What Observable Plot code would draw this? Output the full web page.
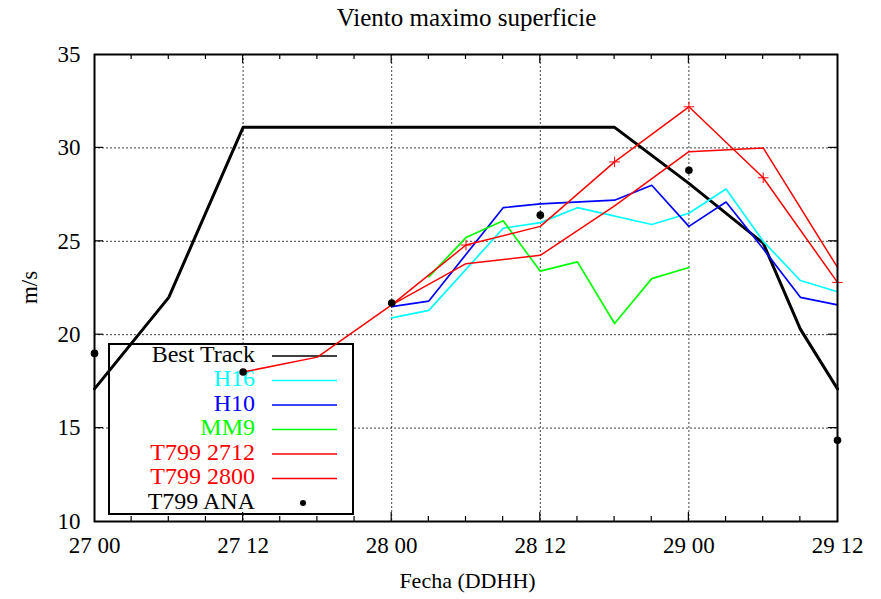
<!DOCTYPE html>
<html>
<head>
<meta charset="utf-8">
<script src="https://cdn.jsdelivr.net/npm/d3@7"></script>
<script src="https://cdn.jsdelivr.net/npm/@observablehq/plot@0.6"></script>
<style>
  body { margin: 0; background: #fff; }
  #title { width: 881px; box-sizing: border-box; padding-left: 52px; height: 40px; line-height: 36px;
           text-align: center; font-family: "Liberation Serif", serif; font-size: 25px; color: #000; }
  #chart svg { display: block; }
</style>
</head>
<body>
<div id="title">Viento maximo superficie</div>
<div id="chart"></div>
<script>
// hours since 27 00
const bestHours = [0, 6, 12, 42, 48, 54, 57, 60];
const bestVals  = [17.1, 22.0, 31.1, 31.1, 28.1, 24.9, 20.3, 17.1];

const h16Hours = [24, 27, 33, 36, 39, 45, 48, 51, 54, 57, 60];
const h16Vals  = [20.9, 21.3, 25.7, 26.0, 26.8, 25.9, 26.5, 27.8, 25.0, 22.9, 22.3];

const h10Hours = [24, 27, 33, 36, 42, 45, 48, 51, 54, 57, 60];
const h10Vals  = [21.5, 21.8, 26.8, 27.0, 27.2, 28.0, 25.8, 27.1, 24.6, 22.0, 21.6];

const mm9Hours = [27, 30, 33, 36, 39, 42, 45, 48];
const mm9Vals  = [23.1, 25.2, 26.1, 23.4, 23.9, 20.6, 23.0, 23.6];

const t2712Hours = [12, 18, 24, 30, 36, 42, 48, 54, 60];
const t2712Vals  = [18.0, 18.8, 21.6, 24.8, 25.8, 29.25, 32.2, 28.4, 22.8];
const t2712CrossHours = [30, 42, 48, 54, 60];

const t2800Hours = [24, 30, 36, 42, 48, 54, 60];
const t2800Vals  = [21.6, 23.8, 24.25, 26.9, 29.8, 30.0, 23.6];

const anaHours = [0, 12, 24, 36, 48, 60];
const anaVals  = [19.0, 18.0, 21.7, 26.4, 28.8, 14.35];

const xTicks = [0, 12, 24, 36, 48, 60];
const xTickLabels = ["27 00", "27 12", "28 00", "28 12", "29 00", "29 12"];
const xMinorTicks = d3.range(0, 61, 3);
const yTicks = [10, 15, 20, 25, 30, 35];

const legendNames = ["Best Track", "H16", "H10", "MM9", "T799 2712", "T799 2800", "T799 ANA"];
const legendColors = ["#000000", "#00ffff", "#0000ff", "#00ff00", "#ff0000", "#ff0000", "#000000"];

const zip = (hs, vs) => hs.map((h, i) => ({h, v: vs[i]}));
const best = zip(bestHours, bestVals);
const h16 = zip(h16Hours, h16Vals);
const h10 = zip(h10Hours, h10Vals);
const mm9 = zip(mm9Hours, mm9Vals);
const t2712 = zip(t2712Hours, t2712Vals);
const t2800 = zip(t2800Hours, t2800Vals);
const ana = zip(anaHours, anaVals);

const W = 881, H = 559;
const plot = Plot.plot({
  width: W, height: H,
  marginTop: 14, marginBottom: 78, marginLeft: 94, marginRight: 44,
  style: {fontFamily: "Liberation Serif, serif", fontSize: "23px", background: "#fff", color: "#000"},
  x: {domain: [0, 60]},
  y: {domain: [10, 35]},
  marks: [
    Plot.ruleX(xTicks.slice(1, -1), {stroke: "#000", strokeWidth: 1, strokeDasharray: "2,2", strokeOpacity: 0.75}),
    Plot.ruleY(yTicks.slice(1, -1), {stroke: "#000", strokeWidth: 1, strokeDasharray: "2,2", strokeOpacity: 0.75}),
    Plot.axisY({ticks: yTicks, tickSize: 0, tickPadding: 14, label: null}),
    Plot.axisX({ticks: xTicks, tickSize: 0, tickPadding: 15, label: null,
      tickFormat: d => xTickLabels[xTicks.indexOf(d)]}),
    Plot.line(best, {x: "h", y: "v", stroke: "#000", strokeWidth: 3}),
    Plot.line(h16, {x: "h", y: "v", stroke: "#00ffff", strokeWidth: 1.7}),
    Plot.line(h10, {x: "h", y: "v", stroke: "#0000ff", strokeWidth: 1.7}),
    Plot.line(mm9, {x: "h", y: "v", stroke: "#00ff00", strokeWidth: 1.7}),
    Plot.line(t2712, {x: "h", y: "v", stroke: "#ff0000", strokeWidth: 1.5}),
    Plot.dot(t2712.filter(d => t2712CrossHours.includes(d.h)), {x: "h", y: "v", symbol: "plus", r: 3.5, stroke: "#ff0000", strokeWidth: 1}),
    Plot.line(t2800, {x: "h", y: "v", stroke: "#ff0000", strokeWidth: 1.5}),
    Plot.dot(ana, {x: "h", y: "v", r: 3.8, fill: "#000"}),
    Plot.frame({stroke: "#000", strokeWidth: 2})
  ]
});

const svg = d3.select(plot);
svg.selectAll("text").style("font-size", "23px");

const sx = plot.scale("x"), sy = plot.scale("y");
const X = v => sx.apply(v), Y = v => sy.apply(v);
const x0 = X(0), x1 = X(60), y0 = Y(10), y1 = Y(35);
const g = svg.append("g").attr("stroke", "#000").attr("stroke-width", 1.2);
// inward ticks
xMinorTicks.forEach(h => {
  const len = xTicks.includes(h) ? 9 : 5;
  if (h === 0 || h === 60) return;
  g.append("line").attr("x1", X(h)).attr("x2", X(h)).attr("y1", y0).attr("y2", y0 - len);
  g.append("line").attr("x1", X(h)).attr("x2", X(h)).attr("y1", y1).attr("y2", y1 + len);
});
yTicks.slice(1, -1).forEach(v => {
  g.append("line").attr("x1", x0).attr("x2", x0 + 9).attr("y1", Y(v)).attr("y2", Y(v));
  g.append("line").attr("x1", x1).attr("x2", x1 - 9).attr("y1", Y(v)).attr("y2", Y(v));
});

// axis labels
svg.append("text").attr("transform", `translate(32,${(y0 + y1) / 2}) rotate(-90)`)
  .attr("text-anchor", "middle").attr("dominant-baseline", "middle")
  .style("font-size", "23px").text("m/s");
svg.append("text").attr("x", (x0 + x1) / 2 + 2).attr("y", y0 + 62)
  .attr("text-anchor", "middle").attr("dominant-baseline", "middle")
  .style("font-size", "22px").text("Fecha (DDHH)");

// legend: white box under the data lines, above the grid
const firstLine = svg.select('g[aria-label="line"]').node();
const box = svg.append("rect").attr("x", 109).attr("y", 304).attr("width", 244).attr("height", 170)
  .attr("fill", "#fff").attr("stroke", "#000").attr("stroke-width", 2);
plot.insertBefore(box.node(), firstLine);
const lg = svg.append("g");
legendNames.forEach((name, i) => {
  const cy = 316 + i * 24.5;
  lg.append("text").attr("x", 255).attr("y", cy).attr("text-anchor", "end")
    .attr("dominant-baseline", "middle").style("font-size", "24px")
    .attr("fill", legendColors[i]).text(name);
  if (i < legendNames.length - 1) {
    lg.append("line").attr("x1", 272).attr("x2", 337).attr("y1", cy).attr("y2", cy)
      .attr("stroke", legendColors[i]).attr("stroke-width", 1.3);
  } else {
    lg.append("circle").attr("cx", 303).attr("cy", cy).attr("r", 3).attr("fill", legendColors[i]);
  }
});
plot.insertBefore(lg.node(), firstLine);

document.getElementById("chart").appendChild(plot);
</script>
</body>
</html>
